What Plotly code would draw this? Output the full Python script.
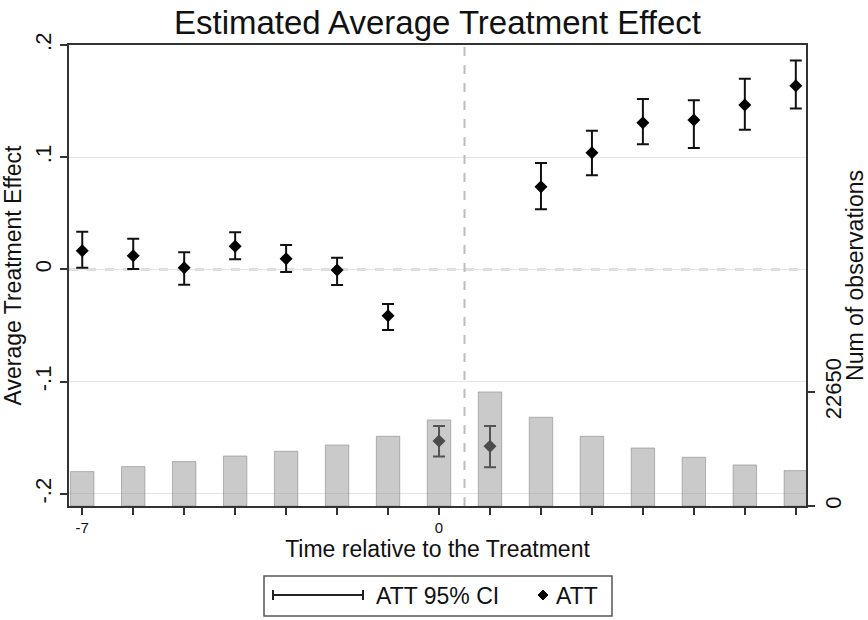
import plotly.graph_objects as go

# ---- data ----
periods = [-7, -6, -5, -4, -3, -2, -1, 0, 1, 2, 3, 4, 5, 6, 7]
att = [0.0167, 0.0123, 0.0016, 0.0206, 0.0096, -0.0004, -0.0411,
       -0.1527, -0.1575, 0.0737, 0.1040, 0.1307, 0.1331, 0.1465, 0.1637]
ci_upper = [0.0337, 0.0274, 0.0153, 0.0331, 0.0218, 0.0105, -0.0307,
            -0.1394, -0.1394, 0.0948, 0.1236, 0.1518, 0.1507, 0.1699, 0.1863]
ci_lower = [0.0016, 0.0004, -0.0135, 0.0091, -0.0022, -0.0138, -0.0539,
            -0.1667, -0.1762, 0.0536, 0.0839, 0.1115, 0.1082, 0.1245, 0.1435]
num_obs = [6835, 7830, 8820, 9935, 10870, 12120, 13850,
           17090, 22650, 17620, 13850, 11525, 9680, 8150, 7030]
x_tick_vals = periods
x_tick_text = ["-7", "", "", "", "", "", "", "0", "", "", "", "", "", "", ""]
y_tick_vals = [-0.2, -0.1, 0, 0.1, 0.2]
y_tick_text = ["-.2", "-.1", "0", ".1", ".2"]
y2_tick_vals = [0, 22650]
y2_tick_text = ["0", "22650"]

FONT = "Liberation Sans, Arial, sans-serif"
AX = "#333333"

err_plus = [u - a for u, a in zip(ci_upper, att)]
err_minus = [a - l for a, l in zip(att, ci_lower)]

fig = go.Figure()

fig.add_trace(go.Scatter(
    x=periods, y=att, mode="markers", name="ATT",
    marker=dict(symbol="diamond", size=10, color="black"),
    error_y=dict(type="data", symmetric=False, array=err_plus, arrayminus=err_minus,
                 color="#111111", thickness=2, width=6),
    showlegend=False, yaxis="y", cliponaxis=False,
))

fig.add_trace(go.Bar(
    x=periods, y=num_obs, name="Num of observations", yaxis="y2", width=0.46,
    marker=dict(color="rgba(150,150,150,0.5)", line=dict(color="rgba(110,110,110,0.45)", width=1)),
    showlegend=False,
))

L, R, T, B = 69, 62, 45, 114
W, H = 868, 620
PW, PH = W - L - R, H - T - B

def px(x):
    return (x - L) / PW

def py(y):
    return (H - B - y) / PH

shapes = [
    dict(type="line", xref="x", yref="paper", x0=0.5, x1=0.5, y0=0, y1=1,
         line=dict(color="#bdbdbd", width=2, dash="dash"), layer="above"),
    dict(type="line", xref="paper", yref="y", x0=0, x1=1, y0=0, y1=0,
         line=dict(color="#b8b8b8", width=2, dash="dash"), layer="below"),
    # legend box
    dict(type="rect", xref="paper", yref="paper", x0=px(264), x1=px(612), y0=py(616), y1=py(576),
         line=dict(color="#555555", width=1.5)),
    dict(type="line", xref="paper", yref="paper", x0=px(273), x1=px(363), y0=py(595), y1=py(595),
         line=dict(color="#222222", width=2)),
    dict(type="line", xref="paper", yref="paper", x0=px(273), x1=px(273), y0=py(590), y1=py(600),
         line=dict(color="#222222", width=2)),
    dict(type="line", xref="paper", yref="paper", x0=px(363), x1=px(363), y0=py(590), y1=py(600),
         line=dict(color="#222222", width=2)),
    dict(type="path", xref="paper", yref="paper",
         path=f"M {px(538)},{py(595)} L {px(543)},{py(590)} L {px(548)},{py(595)} L {px(543)},{py(600)} Z",
         fillcolor="black", line=dict(color="black", width=1)),
]

annotations = [
    dict(text="ATT 95% CI", xref="paper", yref="paper", x=px(374), y=py(596),
         xanchor="left", yanchor="middle", showarrow=False, font=dict(family=FONT, size=23, color="#111")),
    dict(text="ATT", xref="paper", yref="paper", x=px(554), y=py(596),
         xanchor="left", yanchor="middle", showarrow=False, font=dict(family=FONT, size=23, color="#111")),
]

fig.update_layout(
    width=W, height=H,
    margin=dict(l=L, r=R, t=T, b=B, autoexpand=False),
    paper_bgcolor="white", plot_bgcolor="white",
    font=dict(family=FONT, color="#111111"),
    title=dict(text="Estimated Average Treatment Effect", x=0.5, xref="paper", xanchor="center",
               y=1 - 22 / H, yref="container", yanchor="middle",
               font=dict(family=FONT, size=33, color="#111111")),
    xaxis=dict(range=[-7.26, 7.2], tickmode="array", tickvals=x_tick_vals, ticktext=x_tick_text,
               ticks="outside", ticklen=7, tickwidth=2, tickcolor=AX,
               showline=True, linecolor=AX, linewidth=2, mirror=True,
               showgrid=False, zeroline=False,
               tickfont=dict(family=FONT, size=15),
               title=dict(text="Time relative to the Treatment", font=dict(family=FONT, size=23), standoff=2)),
    yaxis=dict(range=[-0.2107, 0.2], tickmode="array", tickvals=y_tick_vals, ticktext=y_tick_text,
               tickangle=-90, ticks="outside", ticklen=7, tickwidth=2, tickcolor=AX,
               showline=True, linecolor=AX, linewidth=2, mirror=True,
               showgrid=True, gridcolor="#e4e4e4", gridwidth=1, zeroline=False,
               tickfont=dict(family=FONT, size=22),
               title=dict(text="Average Treatment Effect", font=dict(family=FONT, size=23), standoff=4)),
    yaxis2=dict(range=[0, 91540], overlaying="y", side="right", tickmode="array",
                tickvals=y2_tick_vals, ticktext=y2_tick_text, tickangle=-90,
                ticks="outside", ticklen=7, tickwidth=2, tickcolor=AX,
                showline=True, linecolor=AX, linewidth=2,
                showgrid=False, zeroline=False,
                tickfont=dict(family=FONT, size=22),
                title=dict(text="Num of observations", font=dict(family=FONT, size=23), standoff=2)),
    shapes=shapes, annotations=annotations,
    showlegend=False,
)

fig.write_html("out.html", config={"displayModeBar": False},
               post_script="document.body.style.margin='0px';document.body.style.overflow='hidden';")
